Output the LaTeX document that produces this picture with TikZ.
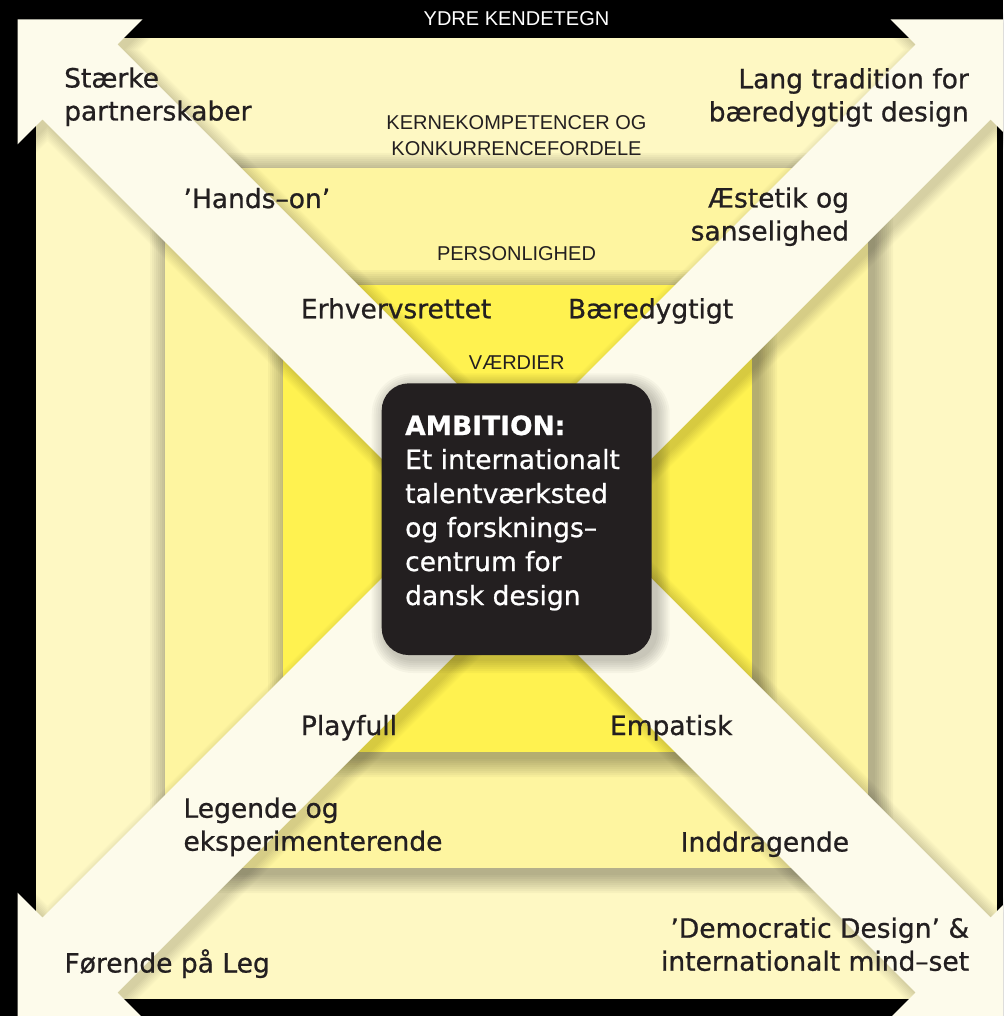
\documentclass[tikz,border=0pt]{standalone}
\usepackage{fontspec}
\setmainfont{DejaVu Sans}
\newfontfamily\medfam{DejaVu Sans}[FakeBold=0.8]
\newfontfamily\capfam{Liberation Sans}
\newcommand\lstack[1]{\vtop{\halign{##\hfil\cr#1\crcr}}}
\newcommand\rstack[1]{\vtop{\halign{\hfil##\cr#1\crcr}}}
\newcommand\cstack[1]{\vtop{\halign{\hfil##\hfil\cr#1\crcr}}}
\newcommand\xarrowpath{(-499,-499) -- (-374,-499) -- (-399,-474) -- (37.5,-37.5) -- (-37.5,37.5) -- (-474,-399) -- (-499,-374) -- cycle}
\definecolor{outerY}{HTML}{FEF8C3}
\definecolor{midY}{HTML}{FEF5A0}
\definecolor{innerY}{HTML}{FFF250}
\definecolor{bandC}{HTML}{FDFBEB}
\definecolor{inkC}{HTML}{231F20}
\definecolor{boxC}{HTML}{231F20}
\begin{document}
\begin{tikzpicture}[x=1pt,y=-1pt,
  lab/.style={font=\medfam\fontsize{26.5}{33}\selectfont, text=inkC, inner sep=0pt},
  caplab/.style={font=\capfam\fontsize{20}{26}\selectfont, text=inkC, inner sep=0pt},
  boxtxt/.style={font=\medfam\fontsize{26.5}{34}\selectfont, text=white, inner sep=0pt},
  layershadow/.style={black, opacity=0.03}
  ]
\useasboundingbox (0,0) rectangle (1003,1016);
\clip (0,0) rectangle (1003,1016);
\fill[black] (0,0) rectangle (1003,1016);
% outer layer
\fill[outerY] (36,38) rectangle (997,999);
% second layer
\foreach \r in {2,4,...,20}{\fill[layershadow,rounded corners=\r pt] ({170-\r},{173-\r}) rectangle ({873+\r},{873+\r});}
\fill[midY] (165,168) rectangle (868,868);
% third layer
\foreach \r in {2,4,...,20}{\fill[layershadow,rounded corners=\r pt] ({288-\r},{290-\r}) rectangle ({757+\r},{757+\r});}
\fill[innerY] (283,285) rectangle (752,752);
% diagonal arrows
\begin{scope}[shift={(516.5,518.5)}]
  \begin{scope}[shift={(5,5)}]
    \foreach \sx/\sy in {1/1,-1/1,1/-1,-1/-1}{
      \begin{scope}[xscale=\sx,yscale=\sy]
        \foreach \w in {3,6,...,24}{
          \begin{scope}[transparency group,opacity=0.02]
            \filldraw[black,line width=\w pt,line join=round] \xarrowpath;
          \end{scope}}
      \end{scope}}
  \end{scope}
  \foreach \sx/\sy in {1/1,-1/1,1/-1,-1/-1}{
    \begin{scope}[xscale=\sx,yscale=\sy]
      \fill[bandC] \xarrowpath;
    \end{scope}}
\end{scope}
% ambition box
\foreach \r in {2,4,...,14}{\fill[black,opacity=0.03,rounded corners={27pt+\r pt}] ({385.7-\r},{387.3-\r}) rectangle ({655.7+\r},{659+\r});}
\node[fill=boxC, rounded corners=27pt, minimum width=270pt, minimum height=271.7pt, inner sep=0pt] (amb) at (516.7,519.2) {};
\node[boxtxt, anchor=base west] (ambtxt) at (405,435) {\lstack{{\bfseries AMBITION:}\cr Et internationalt\cr talentværksted\cr og forsknings–\cr centrum for\cr dansk design}};
% level labels
\node[caplab, text=white, anchor=base] (ydre) at (516.5,26) {YDRE KENDETEGN};
\node[caplab, anchor=base] (kerne) at (516.5,130) {\cstack{KERNEKOMPETENCER OG\cr KONKURRENCEFORDELE}};
\node[caplab, anchor=base] (pers) at (516.5,260) {PERSONLIGHED};
\node[caplab, anchor=base] (vaerd) at (516.7,369) {VÆRDIER};
% item labels
\node[lab, anchor=base west] (sp) at (64,87.5) {\lstack{Stærke\cr partnerskaber}};
\node[lab, anchor=base east] (lt) at (969,88.3) {\rstack{Lang tradition for\cr bæredygtigt design}};
\node[lab, anchor=base west] (ho) at (183.3,208) {’Hands–on’};
\node[lab, anchor=base east] (ae) at (849.3,207.5) {\rstack{Æstetik og\cr sanselighed}};
\node[lab, anchor=base west] (er) at (300.7,318.3) {Erhvervsrettet};
\node[lab, anchor=base east] (bd) at (733.3,318.3) {Bæredygtigt};
\node[lab, anchor=base west] (pf) at (300.7,735) {Playfull};
\node[lab, anchor=base east] (em) at (732.7,735) {Empatisk};
\node[lab, anchor=base west] (le) at (183.3,817.7) {\lstack{Legende og\cr eksperimenterende}};
\node[lab, anchor=base east] (ind) at (849.3,851.5) {Inddragende};
\node[lab, anchor=base west] (fl) at (64.3,972.5) {Førende på Leg};
\node[lab, anchor=base east] (dd) at (969.3,937.7) {\rstack{’Democratic Design’ \&\cr internationalt mind–set}};
\end{tikzpicture}
\end{document}
